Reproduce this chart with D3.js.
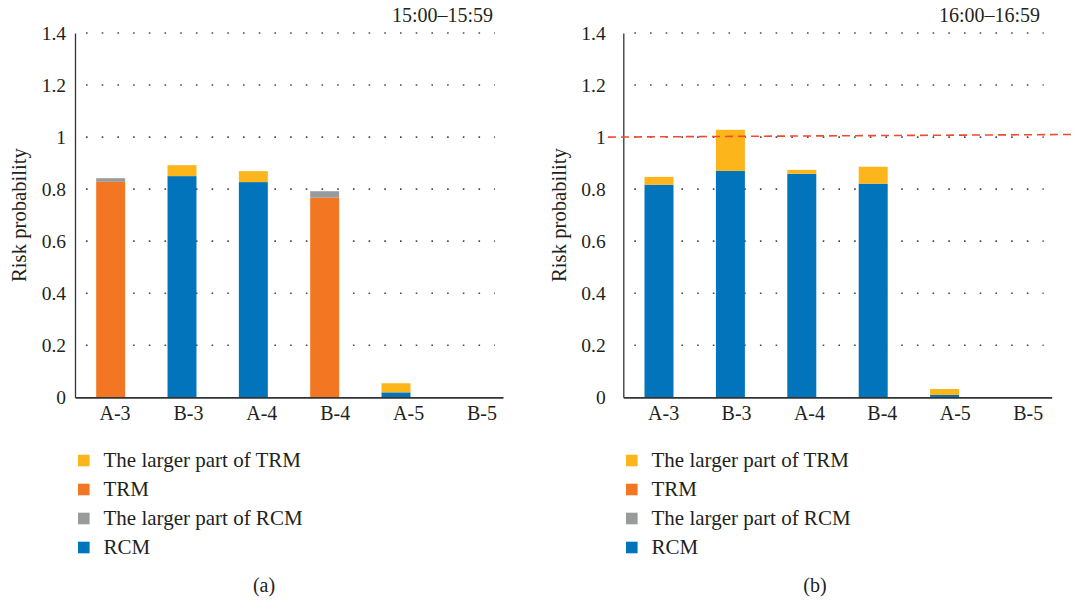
<!DOCTYPE html>
<html>
<head>
<meta charset="utf-8">
<script src="https://cdn.jsdelivr.net/npm/d3@7"></script>
<style>
  html, body { margin: 0; padding: 0; background: #fff; }
  svg { display: block; }
  text { font-family: "Liberation Serif", "Times New Roman", serif; fill: #231f20; }
</style>
</head>
<body>
<svg id="chart" width="1074" height="601"></svg>
<script>
// Stations on the x axis
const categories = ["A-3", "B-3", "A-4", "B-4", "A-5", "B-5"];

// Y ticks
const yTickValues = [0, 0.2, 0.4, 0.6, 0.8, 1, 1.2, 1.4];
const yTickLabels = ["0", "0.2", "0.4", "0.6", "0.8", "1", "1.2", "1.4"];

// Legend entries (top to bottom) and series keys
const seriesKeys = ["largerTrm", "trm", "largerRcm", "rcm"];
const seriesNames = ["The larger part of TRM", "TRM", "The larger part of RCM", "RCM"];
const seriesColors = ["#fcb51b", "#f37722", "#999a9c", "#0174bc"];

// (a) 15:00–15:59
const periodA = "15:00\u201315:59";
const rcmA       = [0,     0.850, 0.827, 0,     0.019, 0];
const trmA       = [0.828, 0,     0,     0.767, 0,     0];
const largerRcmA = [0.014, 0,     0,     0.025, 0,     0];
const largerTrmA = [0,     0.042, 0.042, 0,     0.035, 0];

// (b) 16:00–16:59
const periodB = "16:00\u201316:59";
const rcmB       = [0.817, 0.870, 0.859, 0.821, 0.009, 0];
const trmB       = [0,     0,     0,     0,     0,     0];
const largerRcmB = [0,     0,     0,     0,     0,     0];
const largerTrmB = [0.030, 0.158, 0.015, 0.065, 0.023, 0];

// Risk threshold drawn in panel (b) (value at left end, value at right end)
const thresholdB = [1.0, 1.01];

const svg = d3.select("#chart");
const y = d3.scaleLinear().domain([0, 1.4]).range([397.3, 33]);
const yAxisTitle = "Risk probability";

function drawPanel(p) {
  const g = svg.append("g");
  const rows = categories.map((c, i) => ({
    cat: c, rcm: p.rcm[i], trm: p.trm[i], largerRcm: p.largerRcm[i], largerTrm: p.largerTrm[i]
  }));

  const x = d3.scaleBand().domain(categories)
    .range([p.axisX, p.axisEnd]).paddingInner(0.594).paddingOuter(0.297);
  const xLab = d3.scaleBand().domain(categories).range(p.labelRange);

  // dotted gridlines
  g.append("g").selectAll("line")
    .data(yTickValues.filter(v => v > 0))
    .join("line")
    .attr("x1", p.axisX + 11).attr("x2", p.axisEnd - 8)
    .attr("y1", d => y(d)).attr("y2", d => y(d))
    .attr("stroke", "#4a4a4a").attr("stroke-width", 1.6)
    .attr("stroke-dasharray", "1.6,14.1");

  // stacked bars
  const stackOrder = ["rcm", "trm", "largerRcm", "largerTrm"];
  const stacked = d3.stack().keys(stackOrder)(rows);
  g.append("g").selectAll("g")
    .data(stacked)
    .join("g")
    .attr("fill", d => seriesColors[seriesKeys.indexOf(d.key)])
    .selectAll("rect")
    .data(d => d.filter(s => s[1] - s[0] > 0))
    .join("rect")
    .attr("x", d => x(d.data.cat))
    .attr("width", x.bandwidth())
    .attr("y", d => y(d[1]))
    .attr("height", d => y(d[0]) - y(d[1]));

  // y axis
  const yAxis = g.append("g")
    .attr("transform", `translate(${p.axisX},0)`)
    .call(d3.axisLeft(y).tickValues(yTickValues)
      .tickFormat((d, i) => yTickLabels[i]).tickSize(0).tickPadding(p.tickPad));
  yAxis.select(".domain").attr("stroke", "#333").attr("stroke-width", 1.3);
  yAxis.selectAll("text").attr("font-size", 19.5).attr("fill", "#231f20");

  // x axis line
  const xAxis = g.append("g")
    .attr("transform", `translate(0,${y(0)})`)
    .call(d3.axisBottom(x).tickSize(0).tickFormat(""));
  xAxis.select(".domain").attr("stroke", "#333").attr("stroke-width", 1.8);

  // x tick labels
  const xLabels = g.append("g")
    .attr("transform", `translate(0,${y(0)})`)
    .call(d3.axisBottom(xLab).tickSize(0).tickPadding(9));
  xLabels.select(".domain").remove();
  xLabels.selectAll("text").attr("font-size", 20).attr("fill", "#231f20");

  // threshold line
  if (p.threshold) {
    g.append("line")
      .attr("x1", p.thresholdX[0]).attr("x2", p.thresholdX[1])
      .attr("y1", y(p.threshold[0])).attr("y2", y(p.threshold[1]))
      .attr("stroke", "#ee4a2f").attr("stroke-width", 1.6)
      .attr("stroke-dasharray", "8,5");
  }

  // period label
  g.append("text")
    .attr("x", p.titleRight).attr("y", 22)
    .attr("text-anchor", "end").attr("font-size", 20)
    .text(p.period);

  // y axis title
  g.append("text")
    .attr("transform", `translate(${p.yTitleX},215) rotate(-90)`)
    .attr("text-anchor", "middle").attr("dy", "0.35em")
    .attr("font-size", 20.7)
    .text(yAxisTitle);

  // legend
  const leg = g.append("g").selectAll("g")
    .data(seriesNames)
    .join("g")
    .attr("transform", (d, i) => `translate(0,${460.5 + i * 29})`);
  leg.append("rect")
    .attr("x", p.legendX).attr("y", -5.8)
    .attr("width", 11.6).attr("height", 11.6)
    .attr("fill", (d, i) => seriesColors[i]);
  leg.append("text")
    .attr("x", p.legendX + 25.5).attr("y", 0).attr("dy", "0.33em")
    .attr("font-size", 21)
    .text(d => d);

  // panel caption
  g.append("text")
    .attr("x", p.captionX).attr("y", 592)
    .attr("text-anchor", "middle").attr("font-size", 20)
    .text(p.caption);
}

drawPanel({
  rcm: rcmA, trm: trmA, largerRcm: largerRcmA, largerTrm: largerTrmA,
  period: periodA, caption: "(a)",
  axisX: 75, axisEnd: 503, labelRange: [78.3, 518.7], tickPad: 9,
  titleRight: 493, yTitleX: 19, legendX: 78, captionX: 264
});

drawPanel({
  rcm: rcmB, trm: trmB, largerRcm: largerRcmB, largerTrm: largerTrmB,
  period: periodB, caption: "(b)",
  axisX: 623.3, axisEnd: 1051.7, labelRange: [627.2, 1064.6], tickPad: 17.6,
  titleRight: 1040, yTitleX: 559, legendX: 626, captionX: 815,
  threshold: thresholdB, thresholdX: [608, 1074]
});
</script>
</body>
</html>
